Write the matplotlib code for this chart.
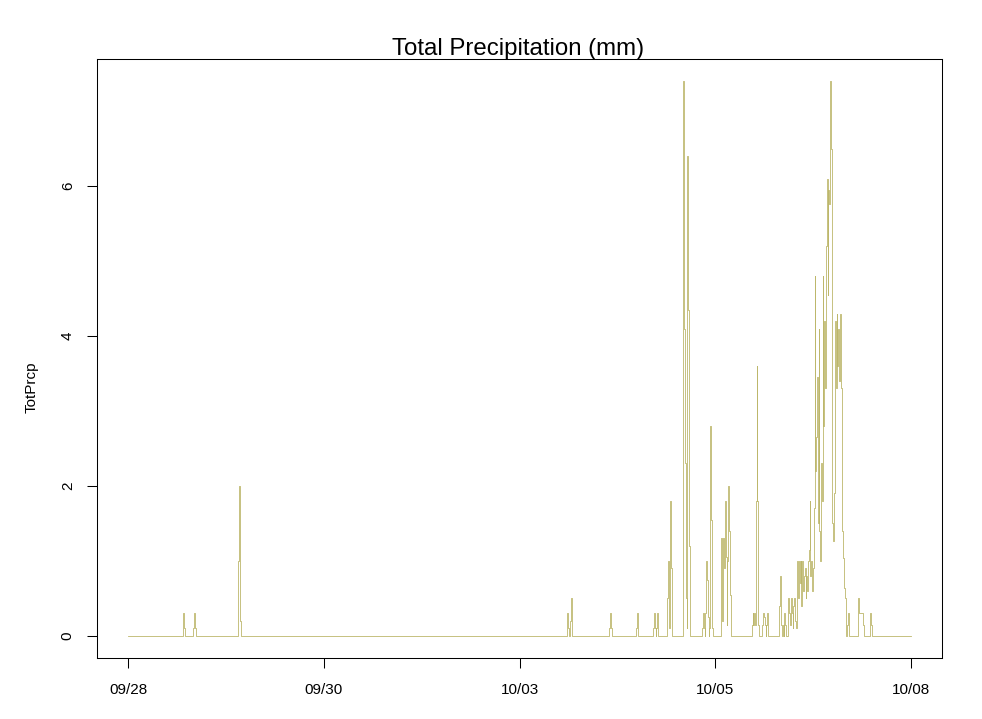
import matplotlib
matplotlib.use("Agg")
import matplotlib.pyplot as plt

plt.rcParams['font.family'] = ['Liberation Sans', 'DejaVu Sans']

# ================================================================
# Data — total precipitation (mm), step series
# hours counted from 09/28 00:00; each value holds until the next hour mark
# ================================================================

step_hours = [
    0.0,
    16.75, 17.0, 17.25,
    20.0, 20.25, 20.5, 20.75,
    33.75, 34.0, 34.25, 34.5,
    134.5, 134.75, 135.25, 135.5, 135.75, 136.0, 136.25,
    147.5, 147.75, 148.0, 148.25,
    155.75, 156.0, 156.25,
    161.0, 161.25, 161.5, 161.75, 162.0, 162.25, 162.5,
    165.25, 165.5, 165.75, 166.0, 166.25, 166.5, 166.75,
    170.0, 170.25, 170.5, 170.75, 171.0, 171.25, 171.5, 171.75, 172.0, 172.25,
    176.0, 176.25, 176.5, 176.75, 177.0, 177.25, 177.5, 177.75, 178.0,
    178.25, 178.5, 178.75, 179.0, 179.25,
    181.75, 182.0, 182.25, 182.5, 182.75, 183.0, 183.25, 183.5, 183.75,
    184.0, 184.25, 184.5, 184.75, 185.0,
    191.25, 191.5, 191.75, 192.0, 192.25, 192.5, 192.75, 193.0, 193.25, 193.5,
    194.5, 194.75, 195.0, 195.25, 195.5, 195.75, 196.0, 196.25,
    199.75, 200.0, 200.25, 200.5, 200.75, 201.0, 201.25, 201.5, 201.75,
    202.25, 202.5, 202.75, 203.0, 203.25, 203.5, 203.75, 204.0, 204.25,
    204.5, 204.75, 205.0, 205.25, 205.5, 205.75, 206.0, 206.25, 206.5,
    206.75, 207.0, 207.25, 207.5, 207.75, 208.0, 208.25, 208.5, 208.75,
    209.0, 209.25, 209.5, 209.75, 210.0, 210.25, 210.5, 210.75, 211.0,
    211.25, 211.5, 211.75, 212.0, 212.25, 212.5, 212.75, 213.0, 213.25,
    213.5, 213.75, 214.0, 214.25, 214.5, 214.75, 215.0, 215.25, 215.5,
    215.75, 216.0, 216.25, 216.5, 216.75, 217.0, 217.25, 217.5, 217.75,
    218.0, 218.25, 218.5, 218.75, 219.0, 219.25, 219.5, 219.75, 220.0, 220.25,
    220.5, 220.75, 221.0,
    223.75, 224.0, 224.25, 225.25, 225.75,
    227.5, 227.75, 228.0,
    240.0,
]

step_mm = [
    0.0,
    0.3, 0.1, 0.0,
    0.1, 0.3, 0.1, 0.0,
    1.0, 2.0, 0.2, 0.0,
    0.3, 0.1, 0.0, 0.2, 0.5, 0.2, 0.0,
    0.1, 0.3, 0.1, 0.0,
    0.1, 0.3, 0.0,
    0.1, 0.3, 0.1, 0.0, 0.1, 0.3, 0.0,
    0.5, 1.0, 0.5, 0.1, 1.8, 0.9, 0.0,
    3.7, 7.4, 4.1, 2.3, 0.5, 0.1, 6.4, 4.35, 1.2, 0.0,
    0.1, 0.3, 0.1, 0.0, 0.3, 1.0, 0.75, 0.25, 0.0,
    0.1, 2.8, 1.55, 0.1, 0.0,
    1.3, 0.8, 0.2, 1.3, 0.9, 1.8, 1.05, 0.15, 1.0,
    2.0, 1.4, 0.55, 0.15, 0.0,
    0.15, 0.3, 0.15, 0.3, 0.15, 1.8, 3.6, 1.8, 0.15, 0.0,
    0.15, 0.3, 0.25, 0.15, 0.0, 0.15, 0.3, 0.0,
    0.4, 0.8, 0.15, 0.0, 0.15, 0.0, 0.3, 0.15, 0.0,
    0.4, 0.5, 0.3, 0.15, 0.5, 0.3, 0.1, 0.4, 0.5,
    0.2, 0.1, 0.6, 1.0, 0.5, 1.0, 0.7, 1.0, 0.4,
    1.0, 0.6, 0.8, 0.9, 0.5, 0.8, 0.6, 1.0, 1.15,
    1.8, 0.8, 1.0, 0.6, 0.9, 1.7, 4.8, 2.2, 2.65,
    3.45, 1.5, 4.1, 1.4, 1.0, 2.3, 1.8, 4.8, 2.8,
    4.2, 3.3, 5.2, 6.1, 4.55, 5.95, 5.76, 7.4, 6.5,
    4.95, 1.5, 1.26, 1.9, 4.2, 3.3, 4.3, 3.6, 4.1,
    3.4, 4.3, 4.06, 3.3, 1.4, 1.04, 0.64, 0.5, 0.5, 0.0,
    0.15, 0.3, 0.0,
    0.5, 0.4, 0.3, 0.15, 0.0,
    0.3, 0.15, 0.0,
    0.0,
]

# axis ticks: every 60 hours, labelled by date
tick_hours = [0, 60, 120, 180, 240]
tick_labels = ["09/28", "09/30", "10/03", "10/05", "10/08"]
y_ticks = [0, 2, 4, 6]

# ================================================================
# Plot
# ================================================================

W, H = 982, 719
fig = plt.figure(figsize=(W / 100, H / 100), dpi=100)
ax = fig.add_axes([97 / W, (H - 658) / H, 845 / W, 599 / H])

ax.plot(step_hours, step_mm, drawstyle="steps-post", color="darkkhaki",
        lw=0.6, antialiased=True)

# R-style 4% padding on both axes
x0, x1 = min(step_hours), max(step_hours)
y0, y1 = 0.0, max(step_mm)
ax.set_xlim(x0 - 0.04 * (x1 - x0), x1 + 0.04 * (x1 - x0))
ax.set_ylim(y0 - 0.04 * (y1 - y0), y1 + 0.04 * (y1 - y0))

ax.set_xticks(tick_hours)
ax.set_xticklabels(tick_labels)
ax.set_yticks(y_ticks)
ax.set_yticklabels([str(v) for v in y_ticks], rotation=90, va="center")

ax.tick_params(axis="both", direction="out", length=7, width=0.75,
               labelsize=11, colors="black")
ax.tick_params(axis="x", pad=11)
ax.tick_params(axis="y", pad=9)
for s in ax.spines.values():
    s.set_linewidth(0.75)
    s.set_color("black")

fig.text(518 / W, 1 - 49 / H, "Total Precipitation (mm)", ha="center",
         va="center", fontsize=17.3)
fig.text(32 / W, 1 - 387 / H, "TotPrcp", ha="center", va="center",
         rotation=90, fontsize=11)

fig.savefig("out.png", dpi=100)
